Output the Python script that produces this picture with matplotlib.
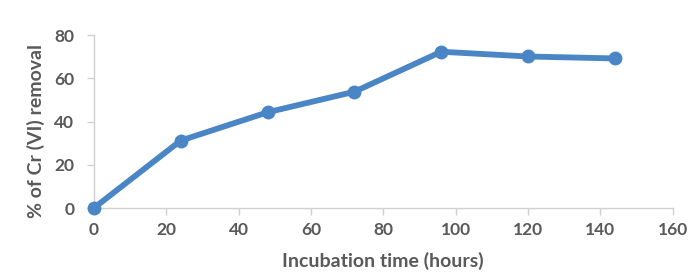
import matplotlib

matplotlib.use("Agg")
import matplotlib.pyplot as plt

# incubation time (hours) vs Cr(VI) removal (%)
hours = [0, 24, 48, 72, 96, 120, 144]
removal = [0, 31.2, 44.3, 53.8, 72.3, 70.1, 69.2]

x_ticks = [0, 20, 40, 60, 80, 100, 120, 140, 160]
y_ticks = [0, 20, 40, 60, 80]

text_color = "#595959"
line_color = "#4a86c5"
axis_color = "#d0d0d0"

plt.rcParams["font.family"] = ["Lato", "DejaVu Sans"]
plt.rcParams["font.weight"] = "bold"

figure, axis = plt.subplots(figsize=(6.95, 2.72), dpi=100)
figure.subplots_adjust(left=0.135, right=0.968, bottom=0.235, top=0.871)

axis.plot(hours, removal, color=line_color, linewidth=4.2, marker="o",
          markersize=9, clip_on=False, zorder=3)

axis.set_xlim(0, 160)
axis.set_ylim(0, 80)
axis.set_xticks(x_ticks)
axis.set_yticks(y_ticks)

for side in ("top", "right"):
    axis.spines[side].set_visible(False)
for side in ("left", "bottom"):
    axis.spines[side].set_color(axis_color)
    axis.spines[side].set_linewidth(1.0)

axis.tick_params(axis="both", colors=axis_color, length=5, width=1.0,
                 labelcolor=text_color, labelsize=12.5)
axis.tick_params(axis="x", pad=5)
axis.tick_params(axis="y", pad=9)

axis.set_xlabel("Incubation time (hours)", color=text_color, fontsize=14,
                fontweight="bold", labelpad=10)
axis.set_ylabel("% of Cr (VI) removal", color=text_color, fontsize=14,
                fontweight="bold")
axis.yaxis.set_label_coords(-0.085, 0.445)

figure.savefig("out.png", dpi=100, facecolor="white")
